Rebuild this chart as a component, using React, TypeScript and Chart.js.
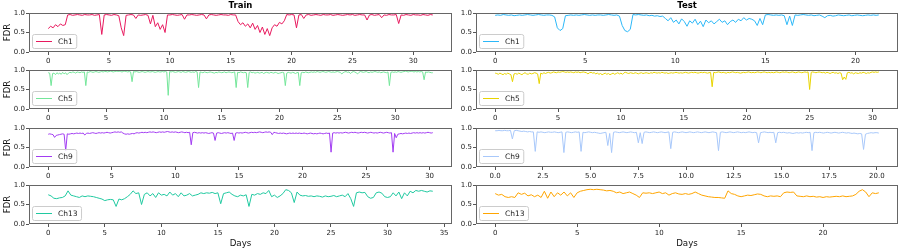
import React, { useEffect, useRef } from "react";
import { Chart, registerables } from "chart.js";

Chart.register(...registerables);

const FONT = "'DejaVu Sans', sans-serif";

// ---------------- Data (FDR per sampling step, in days) ----------------
const TRAIN_CH1_STEP = 0.2;
const TRAIN_CH1 = [
  0.60, 0.66, 0.62, 0.70, 0.65, 0.72, 0.68, 0.70, 0.95, 0.96,
  0.94, 0.95, 0.96, 0.95, 0.94, 0.96, 0.95, 0.95, 0.96, 0.94,
  0.95, 0.96, 0.45, 0.95, 0.96, 0.95, 0.94, 0.96, 0.95, 0.93,
  0.62, 0.42, 0.94, 0.95, 0.96, 0.95, 0.86, 0.95, 0.94, 0.95,
  0.96, 0.94, 0.72, 0.94, 0.65, 0.75, 0.58, 0.70, 0.50, 0.95,
  0.95, 0.96, 0.95, 0.94, 0.95, 0.96, 0.84, 0.95, 0.95, 0.96,
  0.95, 0.94, 0.95, 0.96, 0.95, 0.85, 0.95, 0.96, 0.95, 0.94,
  0.95, 0.96, 0.95, 0.95, 0.94, 0.96, 0.95, 0.95, 0.78, 0.70,
  0.75, 0.66, 0.72, 0.62, 0.74, 0.58, 0.68, 0.50, 0.64, 0.45,
  0.60, 0.42, 0.62, 0.70, 0.66, 0.76, 0.72, 0.80, 0.96, 0.95,
  0.96, 0.95, 0.62, 0.95, 0.96, 0.86, 0.95, 0.96, 0.94, 0.95,
  0.96, 0.95, 0.94, 0.96, 0.95, 0.95, 0.96, 0.94, 0.95, 0.96,
  0.95, 0.94, 0.95, 0.96, 0.95, 0.96, 0.94, 0.95, 0.96, 0.95,
  0.95, 0.82, 0.95, 0.96, 0.94, 0.95, 0.96, 0.88, 0.95, 0.94,
  0.96, 0.95, 0.95, 0.96, 0.73, 0.95, 0.94, 0.96, 0.95, 0.94,
  0.96, 0.95, 0.95, 0.94, 0.96, 0.95, 0.94, 0.96, 0.95,
];

const TRAIN_CH5_STEP = 0.125;
const TRAIN_CH5 = [
  0.93, 0.92, 0.60, 0.91, 0.92, 0.88, 0.93, 0.90,
  0.92, 0.89, 0.94, 0.90, 0.93, 0.88, 0.92, 0.94,
  0.93, 0.95, 0.94, 0.92, 0.95, 0.94, 0.93, 0.95,
  0.94, 0.95, 0.60, 0.95, 0.94, 0.96, 0.95, 0.94,
  0.95, 0.96, 0.95, 0.94, 0.95, 0.96, 0.95, 0.96,
  0.96, 0.95, 0.96, 0.97, 0.96, 0.95, 0.96, 0.97,
  0.96, 0.97, 0.96, 0.95, 0.96, 0.97, 0.96, 0.95,
  0.96, 0.95, 0.70, 0.96, 0.95, 0.96, 0.95, 0.94,
  0.95, 0.96, 0.95, 0.94, 0.95, 0.96, 0.95, 0.95,
  0.96, 0.95, 0.94, 0.95, 0.96, 0.95, 0.95, 0.96,
  0.95, 0.96, 0.95, 0.35, 0.96, 0.95, 0.96, 0.95,
  0.94, 0.95, 0.96, 0.95, 0.94, 0.96, 0.95, 0.94,
  0.95, 0.96, 0.95, 0.94, 0.95, 0.94, 0.96, 0.95,
  0.55, 0.95, 0.94, 0.93, 0.95, 0.94, 0.93, 0.94,
  0.95, 0.94, 0.93, 0.92, 0.94, 0.93, 0.95, 0.94,
  0.93, 0.94, 0.95, 0.93, 0.94, 0.95, 0.94, 0.93,
  0.94, 0.95, 0.55, 0.94, 0.93, 0.95, 0.94, 0.93,
  0.94, 0.93, 0.55, 0.94, 0.95, 0.93, 0.94, 0.92,
  0.93, 0.94, 0.92, 0.93, 0.94, 0.91, 0.93, 0.94,
  0.93, 0.92, 0.94, 0.93, 0.92, 0.94, 0.93, 0.91,
  0.92, 0.93, 0.94, 0.93, 0.60, 0.92, 0.94, 0.93,
  0.92, 0.94, 0.93, 0.91, 0.93, 0.94, 0.60, 0.93,
  0.94, 0.93, 0.95, 0.94, 0.93, 0.94, 0.95, 0.94,
  0.95, 0.94, 0.96, 0.95, 0.94, 0.95, 0.96, 0.95,
  0.94, 0.95, 0.96, 0.95, 0.94, 0.95, 0.94, 0.95,
  0.96, 0.95, 0.94, 0.90, 0.93, 0.95, 0.96, 0.94,
  0.95, 0.91, 0.94, 0.96, 0.95, 0.93, 0.90, 0.94,
  0.96, 0.95, 0.94, 0.95, 0.96, 0.94, 0.93, 0.95,
  0.94, 0.95, 0.96, 0.95, 0.94, 0.95, 0.93, 0.94,
  0.95, 0.94, 0.93, 0.95, 0.60, 0.94, 0.95, 0.94,
  0.95, 0.94, 0.96, 0.95, 0.94, 0.95, 0.96, 0.97,
  0.96, 0.95, 0.96, 0.97, 0.96, 0.95, 0.96, 0.95,
  0.96, 0.95, 0.96, 0.95, 0.75, 0.95, 0.94, 0.95,
  0.94, 0.93, 0.93,
];

const TRAIN_CH9_STEP = 0.125;
const TRAIN_CH9 = [
  0.84, 0.85, 0.84, 0.83, 0.76, 0.81, 0.82, 0.83,
  0.84, 0.85, 0.84, 0.42, 0.85, 0.84, 0.85, 0.86,
  0.85, 0.86, 0.87, 0.86, 0.87, 0.86, 0.87, 0.82,
  0.86, 0.87, 0.86, 0.87, 0.88, 0.87, 0.86, 0.87,
  0.88, 0.87, 0.88, 0.87, 0.88, 0.89, 0.88, 0.87,
  0.88, 0.89, 0.90, 0.89, 0.90, 0.89, 0.90, 0.87,
  0.85, 0.84, 0.85, 0.84, 0.85, 0.86, 0.85, 0.87,
  0.88, 0.87, 0.88, 0.89, 0.88, 0.89, 0.88, 0.89,
  0.90, 0.89, 0.90, 0.89, 0.88, 0.89, 0.90, 0.89,
  0.90, 0.89, 0.90, 0.91, 0.90, 0.89, 0.90, 0.89,
  0.90, 0.89, 0.88, 0.89, 0.90, 0.89, 0.88, 0.89,
  0.88, 0.89, 0.57, 0.88, 0.89, 0.88, 0.87, 0.88,
  0.87, 0.88, 0.87, 0.88, 0.87, 0.86, 0.87, 0.88,
  0.87, 0.68, 0.87, 0.88, 0.87, 0.86, 0.87, 0.88,
  0.87, 0.88, 0.87, 0.86, 0.87, 0.68, 0.87, 0.88,
  0.87, 0.88, 0.87, 0.88, 0.89, 0.88, 0.87, 0.88,
  0.89, 0.88, 0.89, 0.88, 0.89, 0.90, 0.89, 0.88,
  0.89, 0.90, 0.89, 0.90, 0.89, 0.83, 0.89, 0.88,
  0.87, 0.86, 0.87, 0.86, 0.87, 0.86, 0.85, 0.86,
  0.87, 0.86, 0.87, 0.86, 0.87, 0.86, 0.87, 0.86,
  0.86, 0.87, 0.86, 0.85, 0.86, 0.87, 0.86, 0.85,
  0.86, 0.85, 0.86, 0.87, 0.86, 0.85, 0.86, 0.87,
  0.86, 0.87, 0.38, 0.87, 0.88, 0.87, 0.88, 0.87,
  0.88, 0.87, 0.88, 0.89, 0.88, 0.87, 0.88, 0.89,
  0.88, 0.89, 0.88, 0.87, 0.88, 0.89, 0.88, 0.89,
  0.88, 0.87, 0.88, 0.89, 0.88, 0.87, 0.88, 0.87,
  0.88, 0.89, 0.88, 0.87, 0.88, 0.89, 0.88, 0.87,
  0.88, 0.38, 0.86, 0.75, 0.84, 0.85, 0.86, 0.85,
  0.86, 0.87, 0.86, 0.87, 0.86, 0.87, 0.88, 0.87,
  0.88, 0.87, 0.88, 0.87, 0.88, 0.87, 0.88, 0.89,
  0.88, 0.87, 0.88,
];

const TRAIN_CH13_STEP = 0.25;
const TRAIN_CH13 = [
  0.75, 0.72, 0.66, 0.65, 0.67, 0.68, 0.72, 0.85, 0.74, 0.72,
  0.70, 0.68, 0.72, 0.70, 0.72, 0.71, 0.70, 0.68, 0.66, 0.64,
  0.60, 0.62, 0.63, 0.62, 0.45, 0.64, 0.62, 0.65, 0.70, 0.76,
  0.85, 0.78, 0.80, 0.50, 0.76, 0.80, 0.72, 0.78, 0.68, 0.80,
  0.74, 0.76, 0.72, 0.82, 0.74, 0.78, 0.70, 0.80, 0.72, 0.74,
  0.78, 0.72, 0.74, 0.76, 0.80, 0.78, 0.80, 0.79, 0.81, 0.78,
  0.80, 0.52, 0.78, 0.80, 0.82, 0.76, 0.72, 0.70, 0.74, 0.72,
  0.75, 0.45, 0.76, 0.74, 0.78, 0.76, 0.80, 0.78, 0.86, 0.70,
  0.74, 0.68, 0.72, 0.78, 0.88, 0.86, 0.80, 0.55, 0.82, 0.74,
  0.72, 0.73, 0.71, 0.72, 0.70, 0.72, 0.71, 0.69, 0.72, 0.70,
  0.71, 0.73, 0.70, 0.72, 0.74, 0.70, 0.78, 0.65, 0.45, 0.80,
  0.82, 0.80, 0.81, 0.70, 0.66, 0.68, 0.80, 0.82, 0.79, 0.70,
  0.68, 0.70, 0.80, 0.72, 0.82, 0.65, 0.80, 0.72, 0.84, 0.80,
  0.86, 0.84, 0.86, 0.84, 0.82, 0.85, 0.84,
];

const TEST_CH1_STEP = 0.15;
const TEST_CH1 = [
  0.94, 0.95, 0.94, 0.96, 0.95, 0.94, 0.95, 0.93, 0.94, 0.95,
  0.94, 0.95, 0.96, 0.95, 0.94, 0.95, 0.96, 0.95, 0.94, 0.95,
  0.95, 0.94, 0.90, 0.62, 0.55, 0.60, 0.93, 0.94, 0.95, 0.94,
  0.95, 0.94, 0.95, 0.96, 0.95, 0.94, 0.95, 0.94, 0.95, 0.95,
  0.94, 0.95, 0.96, 0.95, 0.94, 0.95, 0.92, 0.68, 0.55, 0.52,
  0.58, 0.96, 0.95, 0.96, 0.95, 0.94, 0.95, 0.93, 0.94, 0.92,
  0.93, 0.91, 0.92, 0.86, 0.80, 0.88, 0.76, 0.82, 0.72, 0.85,
  0.78, 0.66, 0.80, 0.74, 0.84, 0.70, 0.79, 0.65, 0.82, 0.75,
  0.80, 0.72, 0.78, 0.84, 0.76, 0.80, 0.70, 0.78, 0.82, 0.76,
  0.84, 0.80, 0.88, 0.82, 0.86, 0.84, 0.80, 0.68, 0.86, 0.70,
  0.95, 0.96, 0.95, 0.94, 0.95, 0.94, 0.95, 0.93, 0.70, 0.92,
  0.68, 0.95, 0.94, 0.95, 0.96, 0.95, 0.94, 0.95, 0.93, 0.94,
  0.95, 0.92, 0.88, 0.93, 0.94, 0.92, 0.93, 0.95, 0.94, 0.93,
  0.94, 0.95, 0.93, 0.94, 0.95, 0.94, 0.93, 0.94, 0.95, 0.94,
  0.95, 0.94, 0.95,
];

const TEST_CH5_STEP = 0.125;
const TEST_CH5 = [
  0.92, 0.91, 0.89, 0.92, 0.90, 0.88, 0.91, 0.89,
  0.92, 0.90, 0.88, 0.70, 0.90, 0.91, 0.89, 0.92,
  0.90, 0.88, 0.91, 0.93, 0.90, 0.89, 0.92, 0.90,
  0.91, 0.93, 0.92, 0.90, 0.65, 0.92, 0.90, 0.93,
  0.91, 0.93, 0.94, 0.92, 0.93, 0.95, 0.94, 0.93,
  0.95, 0.94, 0.95, 0.96, 0.95, 0.94, 0.95, 0.94,
  0.95, 0.94, 0.93, 0.95, 0.94, 0.95, 0.93, 0.94,
  0.95, 0.94, 0.93, 0.90, 0.93, 0.94, 0.92, 0.93,
  0.90, 0.92, 0.89, 0.91, 0.88, 0.90, 0.92, 0.89,
  0.91, 0.88, 0.90, 0.92, 0.89, 0.91, 0.93, 0.90,
  0.92, 0.89, 0.93, 0.94, 0.92, 0.91, 0.93, 0.92,
  0.91, 0.93, 0.92, 0.90, 0.92, 0.93, 0.91, 0.92,
  0.93, 0.92, 0.91, 0.93, 0.92, 0.94, 0.93, 0.92,
  0.93, 0.92, 0.94, 0.93, 0.92, 0.93, 0.91, 0.92,
  0.93, 0.92, 0.93, 0.94, 0.93, 0.92, 0.93, 0.92,
  0.93, 0.94, 0.93, 0.92, 0.93, 0.94, 0.93, 0.94,
  0.93, 0.92, 0.93, 0.94, 0.93, 0.94, 0.93, 0.92,
  0.93, 0.94, 0.57, 0.94, 0.93, 0.94, 0.95, 0.94,
  0.93, 0.94, 0.93, 0.92, 0.94, 0.93, 0.94, 0.95,
  0.94, 0.93, 0.94, 0.93, 0.92, 0.93, 0.94, 0.93,
  0.94, 0.95, 0.94, 0.93, 0.94, 0.93, 0.94, 0.95,
  0.94, 0.93, 0.94, 0.95, 0.94, 0.93, 0.94, 0.93,
  0.94, 0.93, 0.94, 0.95, 0.94, 0.93, 0.94, 0.95,
  0.94, 0.95, 0.94, 0.93, 0.94, 0.95, 0.94, 0.93,
  0.94, 0.95, 0.94, 0.93, 0.94, 0.95, 0.94, 0.95,
  0.50, 0.94, 0.95, 0.94, 0.93, 0.94, 0.95, 0.94,
  0.93, 0.94, 0.92, 0.94, 0.93, 0.91, 0.93, 0.94,
  0.92, 0.93, 0.91, 0.93, 0.92, 0.75, 0.82, 0.76,
  0.93, 0.94, 0.92, 0.93, 0.90, 0.93, 0.92, 0.91,
  0.93, 0.92, 0.94, 0.93, 0.91, 0.93, 0.92, 0.94,
  0.95, 0.94, 0.95, 0.94, 0.95,
];

const TEST_CH9_STEP = 0.1;
const TEST_CH9 = [
  0.93, 0.93, 0.94, 0.93, 0.93, 0.94, 0.93, 0.93, 0.94, 0.72,
  0.93, 0.94, 0.93, 0.92, 0.91, 0.92, 0.91, 0.90, 0.91, 0.90,
  0.90, 0.40, 0.90, 0.89, 0.90, 0.89, 0.88, 0.89, 0.90, 0.89,
  0.89, 0.90, 0.89, 0.88, 0.89, 0.90, 0.37, 0.89, 0.90, 0.89,
  0.88, 0.89, 0.90, 0.89, 0.90, 0.40, 0.89, 0.88, 0.89, 0.90,
  0.89, 0.88, 0.89, 0.88, 0.87, 0.86, 0.87, 0.88, 0.89, 0.55,
  0.86, 0.37, 0.89, 0.90, 0.89, 0.88, 0.89, 0.90, 0.89, 0.88,
  0.89, 0.90, 0.89, 0.88, 0.89, 0.62, 0.88, 0.60, 0.89, 0.90,
  0.89, 0.88, 0.89, 0.90, 0.89, 0.88, 0.89, 0.90, 0.89, 0.88,
  0.89, 0.90, 0.47, 0.89, 0.90, 0.89, 0.88, 0.89, 0.90, 0.89,
  0.88, 0.89, 0.90, 0.89, 0.88, 0.89, 0.90, 0.89, 0.88, 0.89,
  0.90, 0.89, 0.88, 0.89, 0.90, 0.89, 0.88, 0.42, 0.89, 0.90,
  0.89, 0.88, 0.89, 0.90, 0.89, 0.88, 0.89, 0.90, 0.89, 0.88,
  0.89, 0.88, 0.89, 0.90, 0.89, 0.88, 0.89, 0.88, 0.62, 0.88,
  0.89, 0.90, 0.89, 0.88, 0.89, 0.88, 0.89, 0.62, 0.88, 0.89,
  0.88, 0.89, 0.88, 0.87, 0.88, 0.87, 0.86, 0.87, 0.88, 0.87,
  0.88, 0.87, 0.88, 0.89, 0.88, 0.89, 0.42, 0.88, 0.89, 0.88,
  0.89, 0.88, 0.87, 0.88, 0.89, 0.88, 0.87, 0.88, 0.89, 0.88,
  0.87, 0.88, 0.89, 0.88, 0.87, 0.88, 0.87, 0.86, 0.87, 0.86,
  0.85, 0.86, 0.85, 0.45, 0.84, 0.86, 0.87, 0.88, 0.87, 0.88,
  0.88, 0.87,
];

const TEST_CH13_STEP = 0.2;
const TEST_CH13 = [
  0.78, 0.74, 0.76, 0.70, 0.68, 0.70, 0.68, 0.80, 0.76, 0.79,
  0.72, 0.75, 0.70, 0.74, 0.68, 0.84, 0.66, 0.82, 0.70, 0.80,
  0.74, 0.82, 0.72, 0.80, 0.68, 0.80, 0.84, 0.86, 0.88, 0.89,
  0.88, 0.89, 0.88, 0.87, 0.85, 0.86, 0.84, 0.80, 0.82, 0.78,
  0.80, 0.82, 0.78, 0.74, 0.68, 0.80, 0.79, 0.80, 0.78, 0.80,
  0.82, 0.78, 0.80, 0.74, 0.78, 0.80, 0.77, 0.76, 0.78, 0.76,
  0.78, 0.82, 0.78, 0.74, 0.72, 0.70, 0.69, 0.68, 0.68, 0.67,
  0.66, 0.85, 0.78, 0.76, 0.72, 0.70, 0.72, 0.74, 0.73, 0.75,
  0.77, 0.76, 0.72, 0.70, 0.72, 0.71, 0.72, 0.70, 0.80, 0.82,
  0.81, 0.82, 0.72, 0.71, 0.70, 0.72, 0.70, 0.71, 0.69, 0.70,
  0.68, 0.70, 0.69, 0.70, 0.71, 0.70, 0.72, 0.70, 0.71, 0.72,
  0.76, 0.84, 0.88, 0.82, 0.70, 0.80, 0.78, 0.80,
];

// Tick labels
const Y_TICKS = [0, 0.5, 1.0];
const TICKS_0_30 = [0, 5, 10, 15, 20, 25, 30];
const TICKS_0_35 = [0, 5, 10, 15, 20, 25, 30, 35];
const TICKS_0_20 = [0, 5, 10, 15, 20];
const TICKS_0_20_HALF = [0, 2.5, 5, 7.5, 10, 12.5, 15, 17.5, 20];

const COLUMN_TITLES = ["Train", "Test"];
const X_LABEL = "Days";
const Y_LABEL = "FDR";

type Panel = {
  col: number;
  row: number;
  label: string;
  values: number[];
  step: number;
  color: string;
  xTicks: number[];
  decimals: number;
};

const PANELS: Panel[] = [
  { col: 0, row: 0, label: "Ch1", values: TRAIN_CH1, step: TRAIN_CH1_STEP, color: "#e8195e", xTicks: TICKS_0_30, decimals: 0 },
  { col: 0, row: 1, label: "Ch5", values: TRAIN_CH5, step: TRAIN_CH5_STEP, color: "#74e69a", xTicks: TICKS_0_30, decimals: 0 },
  { col: 0, row: 2, label: "Ch9", values: TRAIN_CH9, step: TRAIN_CH9_STEP, color: "#a23cf2", xTicks: TICKS_0_30, decimals: 0 },
  { col: 0, row: 3, label: "Ch13", values: TRAIN_CH13, step: TRAIN_CH13_STEP, color: "#20c9a0", xTicks: TICKS_0_35, decimals: 0 },
  { col: 1, row: 0, label: "Ch1", values: TEST_CH1, step: TEST_CH1_STEP, color: "#2cb8f8", xTicks: TICKS_0_20, decimals: 0 },
  { col: 1, row: 1, label: "Ch5", values: TEST_CH5, step: TEST_CH5_STEP, color: "#e8d400", xTicks: TICKS_0_30, decimals: 0 },
  { col: 1, row: 2, label: "Ch9", values: TEST_CH9, step: TEST_CH9_STEP, color: "#a8c8fa", xTicks: TICKS_0_20_HALF, decimals: 1 },
  { col: 1, row: 3, label: "Ch13", values: TEST_CH13, step: TEST_CH13_STEP, color: "#ffa500", xTicks: TICKS_0_20, decimals: 0 },
];

// ---------------- Layout ----------------
const ROW_TOPS = [13, 70, 128, 185];
const PLOT_H = 39;
const TOP_PAD = 13;

const decorPlugin = {
  id: "panelDecor",
  afterDatasetsDraw(chart: any, _args: any, opts: any) {
    const { ctx, chartArea: a } = chart;
    ctx.save();
    // frame
    ctx.strokeStyle = "#666";
    ctx.lineWidth = 1;
    ctx.strokeRect(a.left + 0.5, a.top + 0.5, a.right - a.left - 1, a.bottom - a.top - 1);

    // legend
    const fs = 7.5;
    ctx.font = `${fs}px ${FONT}`;
    const tw = ctx.measureText(opts.label).width;
    const bh = 14;
    const bx = a.left + 3.5;
    const by = a.bottom - 3.5 - bh;
    const bw = 3.5 + 16 + 6 + tw + 4;
    ctx.beginPath();
    if (ctx.roundRect) ctx.roundRect(bx, by, bw, bh, 2);
    else ctx.rect(bx, by, bw, bh);
    ctx.fillStyle = "rgba(255,255,255,0.8)";
    ctx.fill();
    ctx.strokeStyle = "#cccccc";
    ctx.lineWidth = 1;
    ctx.stroke();
    ctx.beginPath();
    ctx.moveTo(bx + 3.5, by + bh / 2);
    ctx.lineTo(bx + 19.5, by + bh / 2);
    ctx.strokeStyle = opts.color;
    ctx.lineWidth = 1;
    ctx.stroke();
    ctx.fillStyle = "#222";
    ctx.textAlign = "left";
    ctx.textBaseline = "middle";
    ctx.fillText(opts.label, bx + 25.5, by + bh / 2 + 0.5);

    // column title
    if (opts.title) {
      ctx.font = `bold 8.5px ${FONT}`;
      ctx.fillStyle = "#000";
      ctx.textAlign = "center";
      ctx.textBaseline = "middle";
      ctx.fillText(opts.title, (a.left + a.right) / 2, a.top - 7);
    }
    ctx.restore();
  },
};

function PanelChart({ p }: { p: Panel }) {
  const ref = useRef<HTMLCanvasElement>(null);
  const isLeft = p.col === 0;
  const isBottom = p.row === 3;
  const canvasLeft = isLeft ? 0 : 460;
  const canvasW = isLeft ? 460 : 440;
  const canvasTop = ROW_TOPS[p.row] - TOP_PAD;
  const xAxisH = isBottom ? 250 - (ROW_TOPS[3] + PLOT_H) : 18;
  const canvasH = TOP_PAD + PLOT_H + xAxisH;

  useEffect(() => {
    const lastX = (p.values.length - 1) * p.step;
    const tickFont = { family: FONT, size: 7 };
    const chart = new Chart(ref.current as HTMLCanvasElement, {
      type: "line",
      data: {
        datasets: [
          {
            label: p.label,
            data: p.values.map((v, i) => ({ x: i * p.step, y: v })),
            borderColor: p.color,
            backgroundColor: p.color,
            borderWidth: 1,
            pointRadius: 0,
            tension: 0,
            fill: false,
          },
        ],
      },
      options: {
        animation: false,
        responsive: false,
        devicePixelRatio: 1,
        layout: { padding: { top: TOP_PAD, left: 0, right: isLeft ? 8 : 2, bottom: 0 } },
        plugins: {
          legend: { display: false },
          tooltip: { enabled: false },
          panelDecor: {
            title: p.row === 0 ? COLUMN_TITLES[p.col] : "",
            label: p.label,
            color: p.color,
          },
        } as any,
        scales: {
          x: {
            type: "linear",
            min: -0.05 * lastX,
            max: 1.05 * lastX,
            afterBuildTicks: (s: any) => {
              s.ticks = p.xTicks.map((v) => ({ value: v }));
            },
            afterFit: (s: any) => {
              s.height = xAxisH;
            },
            ticks: {
              font: tickFont,
              color: "#222",
              padding: 2,
              maxRotation: 0,
              autoSkip: false,
              callback: (v: any) => Number(v).toFixed(p.decimals),
            },
            grid: { drawOnChartArea: false, drawTicks: true, tickLength: 3, color: "#555" },
            border: { display: false },
            title: {
              display: isBottom,
              text: X_LABEL,
              font: { family: FONT, size: 8.7 },
              color: "#111",
              padding: { top: 0, bottom: 1.5 },
            },
          },
          y: {
            type: "linear",
            min: 0,
            max: 1,
            afterBuildTicks: (s: any) => {
              s.ticks = Y_TICKS.map((v) => ({ value: v }));
            },
            afterFit: (s: any) => {
              s.width = isLeft ? 29 : 16;
            },
            ticks: {
              font: tickFont,
              color: "#222",
              padding: 1,
              callback: (v: any) => Number(v).toFixed(1),
            },
            grid: { drawOnChartArea: false, drawTicks: true, tickLength: 3, color: "#555" },
            border: { display: false },
            title: {
              display: isLeft,
              text: Y_LABEL,
              font: { family: FONT, size: 8.5 },
              color: "#111",
              padding: { top: 3, bottom: 0 },
            },
          },
        },
      } as any,
      plugins: [decorPlugin as any],
    });
    return () => chart.destroy();
  }, []);

  return (
    <canvas
      ref={ref}
      width={canvasW}
      height={canvasH}
      style={{ position: "absolute", left: canvasLeft, top: canvasTop, width: canvasW, height: canvasH }}
    />
  );
}

export default function App() {
  return (
    <div style={{ position: "absolute", left: 0, top: 0, width: 900, height: 250, background: "#fff", overflow: "hidden" }}>
      {PANELS.map((p) => (
        <PanelChart key={`${p.col}-${p.row}`} p={p} />
      ))}
    </div>
  );
}
